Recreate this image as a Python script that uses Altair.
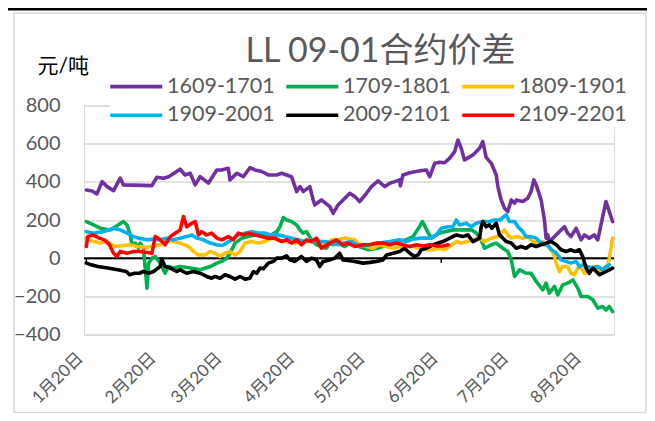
import altair as alt
import pandas as pd

FONT = "Lato, 'Noto Sans CJK SC', sans-serif"

chart_title = "LL 09-01合约价差"
y_title = "元/吨"

series_names = ["1609-1701", "1709-1801", "1809-1901", "1909-2001", "2009-2101", "2109-2201"]
series_colors = ["#7030A0", "#00B050", "#FFC000", "#00B0F0", "#000000", "#FF0000"]
series_widths = [3.6, 3.6, 3.6, 3.6, 3.6, 5]

# x positions are calendar days counted from 1月20日
tick_days = [0, 31, 59, 90, 120, 151, 181, 212]
tick_labels = ["1月20日", "2月20日", "3月20日", "4月20日", "5月20日", "6月20日", "7月20日", "8月20日"]
y_ticks = [-400, -200, 0, 200, 400, 600, 800]

s1609 = [(0,357),(2.4,352),(4.5,337),(6.7,401),(8.8,375),(11.6,354),(14.4,419),(15.8,384),(27.9,380),(30,424),
         (32.8,419),(35,427),(39.9,466),(42,436),(44.2,445),(46.3,384),(48.4,427),(51.9,393),(55.5,462),(57.5,462),
         (60.4,471),(61.1,410),(64,445),(66.8,427),(69.6,474),(71.8,462),(74.6,454),(77.4,436),(81,436),(83.1,445),
         (85.2,436),(87.3,427),(89.5,349),(90.9,375),(92.3,349),(95.1,375),(96.5,305),(97.2,279),(100,305),(103.6,270),
         (105,235),(107.1,279),(110,314),(112.1,340),(114.2,323),(116.3,297),(119.2,340),(121.3,375),(124.1,405),(127,375),
         (129.1,393),(131.2,401),(133.3,410),(133.6,379),(134.7,436),(137.6,448),(140.4,454),(142.5,459),(144.7,462),(146.1,427),
         (148.2,497),(150.3,503),(152.4,500),(154.6,524),(156.7,558),(158.1,619),(159.5,576),(160.9,515),(164.5,541),(167.3,576),
         (168.7,611),(170.1,528),(172.3,497),(174.4,436),(175.1,375),(176.5,305),(177.9,262),(179.3,244),(180.8,305),(182.2,288),
         (182.9,305),(185.7,297),(187.8,314),(189.2,349),(190.4,410),(191.4,384),(193.5,305),(194.9,200),(195.6,105),(196.3,122),
         (197,87),(199.2,113),(203.4,165),(204.8,131),(206.2,113),(208.4,157),(210.5,96),(211.9,122),(214,105),(216.1,122),
         (217.6,96),(219.7,218),(221.1,297),(222.5,244),(223.9,192)]

s1709 = [(0,192),(3.1,174),(5.9,157),(10.2,148),(15.8,192),(17.3,174),(18.7,122),(19.4,70),(20.8,79),(22.2,52),
         (22.9,79),(24.3,52),(25.8,-157),(26.5,-26),(27.9,0),(29.3,9),(31.4,-26),(33.5,-79),(34.9,-44),(37.1,-52),
         (39.9,-44),(44.2,-52),(48.4,-61),(52.7,-44),(55.5,-26),(57.6,-17),(59.7,0),(61.1,26),(63.3,79),(66.1,105),
         (68.9,113),(71.8,122),(74.6,122),(78.8,122),(81,139),(82.4,165),(83.8,213),(85.2,200),(87.3,192),(89.5,174),
         (90.9,148),(92.3,131),(93.7,139),(95.8,96),(97.9,70),(100,61),(102.1,52),(103.6,79),(105,70),(107.1,79),
         (110,61),(112.1,79),(114.2,87),(116,61),(120,44),(124,52),(128,70),(132,87),(136,96),(139,113),
         (141,150),(143,192),(145.5,131),(147,105),(150,131),(153,140),(156,148),(160,148),(164,148),(166,131),
         (168,96),(169.4,52),(172.3,70),(174.4,79),(177.2,52),(179.3,35),(180.8,-9),(182.2,-96),(184.3,-61),(187.1,-79),
         (189.2,-79),(191.4,-122),(194.2,-166),(195.6,-131),(197,-183),(199.2,-148),(200.6,-192),(202.7,-140),(204.8,-131),(207,-114),
         (209.1,-157),(210.5,-201),(213.4,-201),(215.5,-218),(217.6,-262),(219.7,-253),(221.1,-271),(222.5,-253),(223.9,-280)]

s1809 = [(0,105),(3.1,87),(5.9,79),(8.8,87),(10.9,70),(12.3,61),(14.4,64),(18.7,70),(21.5,61),(25.8,57),
         (28.6,64),(31.4,70),(34.3,96),(37.1,87),(39.9,79),(43.5,61),(45.6,35),(47.7,17),(50.5,17),(52.7,35),
         (54.8,26),(56.9,9),(59,26),(61.1,35),(63.3,17),(65.4,35),(67.5,79),(70.3,87),(73.2,79),(76,87),
         (78.8,105),(81.6,96),(84.4,87),(88.7,79),(91.5,87),(95.8,87),(98.6,96),(101.4,70),(104.3,96),(107.1,96),
         (109.9,105),(112.1,100),(114.2,96),(116.3,70),(119.2,61),(122,52),(124.8,70),(127.7,61),(130.5,52),(133.3,61),
         (136.1,61),(139,61),(141.8,52),(144.6,44),(147.5,44),(150.3,52),(152.4,44),(154.6,61),(157.4,87),(159.5,79),
         (162.3,87),(164.5,96),(167.3,105),(169.4,87),(172.3,105),(175.1,113),(177.9,148),(179.3,122),(180.8,105),(182.9,113),
         (185.7,105),(187.8,113),(189.9,87),(192.1,79),(194.2,87),(195.6,70),(197.8,44),(199.2,9),(199.9,-26),(201.3,-70),
         (202.7,-44),(204.8,-44),(206.2,-79),(207.7,-87),(209.1,-52),(210.5,-44),(211.9,-79),(214,-70),(216.1,-44),(218.3,-70),
         (220.4,-52),(221.8,-44),(222.9,26),(223.9,105)]

s1909 = [(0,139),(3.1,131),(7.4,139),(11.6,157),(14.4,148),(17.3,131),(20.1,113),(22.2,105),(25.8,96),(28.6,100),
         (31.4,96),(34.3,105),(37.1,96),(39.9,105),(42.7,113),(44.9,122),(47,105),(49.8,96),(52.7,79),(55.5,70),
         (57.6,66),(59.7,79),(61.8,96),(64.7,122),(67.5,131),(70.3,139),(73.2,131),(76,131),(78.8,122),(81.6,122),
         (84.4,113),(87.3,105),(90.1,96),(92.9,87),(95.8,96),(98.6,87),(101.4,87),(104.3,81),(107.1,70),(109.9,79),
         (112.8,87),(116.3,61),(120.6,70),(124.8,79),(129.1,87),(133.3,96),(136.1,87),(139,100),(142.5,105),(146.1,105),
         (148.9,122),(151,157),(153.9,165),(156,165),(157.4,200),(158.8,174),(161.7,183),(163.8,165),(165.9,183),(168.7,192),
         (171.6,192),(173.7,200),(176,200),(178.6,227),(180,192),(182.2,192),(183.6,165),(185.7,139),(187.1,113),(189.2,113),
         (191.4,105),(192.8,87),(194.9,70),(196.3,70),(197.8,44),(199.2,35),(200.6,17),(202,-9),(204.1,-17),(206.2,-26),
         (208.4,-17),(209.8,-44),(211.2,-35),(213.3,-44),(215.5,-52),(217.6,-44),(219.7,-61),(221.1,-44),(222.5,-35)]

s2009 = [(0,-26),(2.1,-35),(4.9,-44),(9.1,-52),(13.4,-61),(17,-70),(18.4,-87),(20.5,-79),(22.6,-79),(24.3,-70),
         (26.5,-79),(28.6,-70),(31.4,-44),(32.1,-5),(33.5,-44),(35.7,-52),(38.5,-70),(39.9,-61),(42.7,-79),(45.6,-70),
         (48.4,-79),(51.2,-96),(53.3,-105),(54.8,-96),(56.9,-105),(59,-87),(61.1,-96),(63.3,-110),(65.4,-96),(67.5,-110),
         (69.6,-105),(71.1,-70),(72.5,-79),(73.9,-52),(75.3,-56),(77.4,-26),(79.6,-17),(81,0),(83.1,0),(85.2,12),
         (86.6,-9),(88.7,-17),(91.5,9),(93.7,-17),(95.8,0),(97.9,-9),(99.3,-44),(100.7,-17),(103.6,-9),(105.7,0),
         (107.8,26),(109.2,-9),(111.4,-12),(114.2,-17),(117.7,-26),(120.6,-22),(123.4,-17),(126.2,-9),(127.7,17),(130.5,26),
         (133.3,35),(135.4,52),(137.6,26),(139.7,9),(141.1,17),(142.5,44),(144.7,52),(147.5,70),(149.6,79),(151.7,87),
         (154.6,105),(157.4,122),(160.2,113),(162.3,122),(164.5,87),(165.9,96),(167.3,105),(168,165),(168.7,192),(170.1,165),
         (171.5,174),(172.5,157),(174.4,183),(175.8,122),(177.2,105),(178.6,87),(180.8,79),(182.9,52),(185,61),(187.1,52),
         (189.2,70),(191.4,61),(193.5,70),(195.6,79),(197.8,87),(199.9,70),(202,44),(204.1,35),(206.2,44),(207.7,35),
         (209.8,44),(211.2,9),(212.6,-52),(214,-79),(215.5,-52),(216.9,-70),(218.3,-87),(219.7,-79),(221.1,-70),(222.5,-61),
         (223.9,-52)]

s2109 = [(0,61),(0.6,113),(2.8,122),(5.5,105),(7.7,96),(9.8,70),(11.6,26),(13,9),(14.4,35),(17.3,26),
         (20.1,35),(22.9,35),(25.8,30),(27.9,26),(29.3,113),(31.4,96),(33.5,70),(35.7,113),(37.8,131),(39.9,148),
         (41.3,218),(42.7,165),(44.9,183),(46.3,192),(47.7,122),(49.1,139),(51.2,122),(53.3,131),(55.5,105),(57.6,96),
         (60.4,113),(62.5,96),(64.7,131),(66.8,122),(68.9,131),(71.8,122),(74.6,113),(77.4,105),(80.2,105),(83.1,87),
         (85.2,96),(87.3,79),(89.5,96),(91.5,70),(93.7,96),(95.8,87),(97.9,105),(100,52),(103.6,79),(106.4,96),
         (109.2,70),(111.4,79),(114.2,61),(117.7,70),(120.6,70),(123.4,79),(126.2,79),(129.1,70),(131.9,79),(134.7,70),
         (137.6,61),(140.4,70),(143.2,64),(146.1,70),(148.9,64),(151.7,64),(153.9,70)]

all_series = [s1609, s1709, s1809, s1909, s2009, s2109]

rows = []
for name, pts in zip(series_names, all_series):
    for i, (d, v) in enumerate(pts):
        rows.append({"series": name, "day": d, "value": v, "idx": i})
df = pd.DataFrame(rows)

label_expr = ""
for d, lab in zip(tick_days, tick_labels):
    label_expr += f"datum.value == {d} ? '{lab}' : "
label_expr += "''"

x_scale = alt.Scale(domain=[-1, 224.5], nice=False, zero=False)
y_scale = alt.Scale(domain=[-400, 800], nice=False, zero=False)

x_axis = alt.Axis(values=tick_days, labelExpr=label_expr, labelAngle=-45, labelAlign="right",
                  labelBaseline="bottom", labelPadding=27, labelFontSize=17, labelColor="#595959",
                  labelFont=FONT, grid=False, ticks=False, domain=False, title=None,
                  labelOverlap=False, labelFlush=False, labelBound=False)
y_axis = alt.Axis(values=y_ticks, grid=True, gridColor="#d9d9d9", gridWidth=1.5, ticks=False,
                  domain=False, labelFontSize=20, labelColor="#595959", labelFont=FONT, labelPadding=24,
                  title=y_title, titleAngle=0, titleX=-47, titleY=-39.5, titleAlign="left",
                  titleBaseline="middle", titleFontSize=21, titleColor="#000000",
                  titleFontWeight="normal", titleFont=FONT)

one = pd.DataFrame({"a": [1]})

frame = alt.Chart(one).mark_rect(fill="white", fillOpacity=0, stroke="#d9d9d9", strokeWidth=1.5).encode(
    x=alt.value(-70), x2=alt.value(562), y=alt.value(-92.5), y2=alt.value(307))

top_line = alt.Chart(one).mark_rule(color="#000000", strokeWidth=3).encode(
    x=alt.value(-76), x2=alt.value(563), y=alt.value(-96.5))

title_mark = alt.Chart(pd.DataFrame({"t": [chart_title]})).mark_text(
    font=FONT, fontSize=34, color="#595959", align="center", baseline="alphabetic").encode(
    text="t:N", x=alt.value(296.5), y=alt.value(-43.5))

zero_line = alt.Chart(one).mark_rule(color="#000000", strokeWidth=2).encode(
    y=alt.Y(datum=0, type="quantitative", scale=y_scale, axis=y_axis))

tick_df = pd.DataFrame({"day": [tick_days[0], tick_days[5]]})
tick_marks = alt.Chart(tick_df).mark_rule(color="#000000", strokeWidth=1.5).encode(
    x=alt.X("day:Q", scale=x_scale, axis=x_axis),
    y=alt.Y(datum=0, type="quantitative", scale=y_scale, axis=y_axis),
    y2=alt.Y2(datum=-25))

lines = alt.Chart(df).mark_line(strokeJoin="round", strokeCap="round").encode(
    x=alt.X("day:Q", scale=x_scale, axis=x_axis),
    y=alt.Y("value:Q", scale=y_scale, axis=y_axis),
    color=alt.Color("series:N", scale=alt.Scale(domain=series_names, range=series_colors),
                    legend=alt.Legend(title=None, orient="none", legendX=26, legendY=-30,
                                      direction="horizontal", columns=3, symbolType="M-4,0H4",
                                      symbolSize=169, symbolStrokeWidth=4, symbolOffset=15.5,
                                      rowPadding=6, columnPadding=4, labelOffset=20,
                                      labelFontSize=21.5, labelColor="#595959", labelFont=FONT,
                                      fillColor="white", padding=0, labelLimit=300)),
    strokeWidth=alt.StrokeWidth("series:N", scale=alt.Scale(domain=series_names, range=series_widths),
                                legend=None),
    order=alt.Order("idx:Q"),
)

chart = alt.layer(frame, top_line, title_mark, zero_line, tick_marks, lines).properties(
    width=530, height=229,
    padding={"left": 76, "top": 97.5, "right": 33, "bottom": 78.5},
    autosize=alt.AutoSizeParams(type="none"),
).configure_view(stroke=None).configure(background="white")

chart.save("out.html", embed_options={"renderer": "svg", "actions": False})
